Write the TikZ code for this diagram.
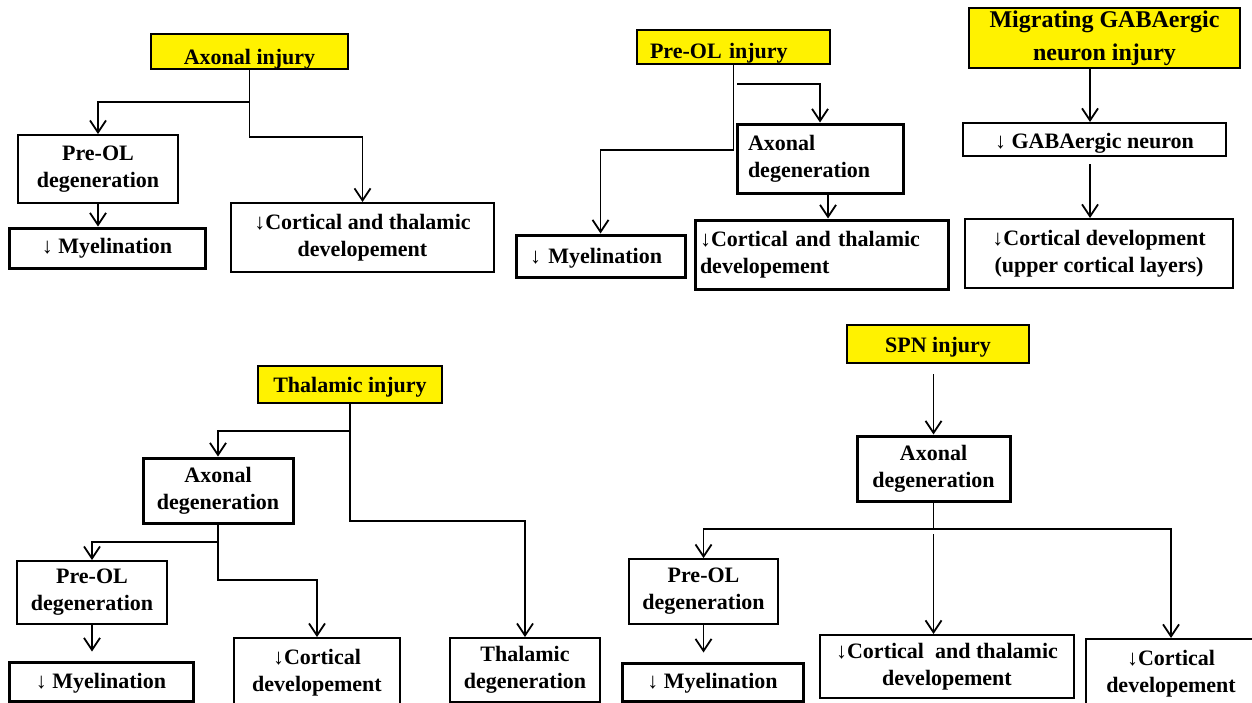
\documentclass[tikz,border=0pt]{standalone}
\usepackage{fontspec}
\setmainfont{Liberation Serif}
\usetikzlibrary{arrows.meta}
\newcommand{\darr}{{\mdseries ↓}}
\begin{document}
\begin{tikzpicture}[x=1pt,y=-1pt,
  every node/.style={font=\bfseries\fontsize{22}{27}\selectfont},
  box/.style={draw=black, line width=#1, inner sep=0pt, align=center, fill=white},
  box/.default=2pt,
  inj/.style={draw=black, line width=2.5pt, fill=yellow, inner sep=0pt, align=center},
  low/.style={text height=#1, text depth=0pt},
  arr/.style={line width=1.8pt, -{Straight Barb[length=12pt,width=16pt,line width=1.8pt]}},
  ln/.style={line width=1.8pt},
]
\useasboundingbox (0,0) rectangle (1252,702);
\fill[white] (0,0) rectangle (1252,702);

% ---------- Panel 1: Axonal injury ----------
\node[inj, low=25pt, minimum width=197pt, minimum height=35pt] (ai) at (249.5,51.5) {Axonal injury};
\node[box=1.8pt, minimum width=160pt, minimum height=68pt] (p1pre) at (98,169) {Pre-OL\\degeneration};
\node[box=3pt, minimum width=196pt, minimum height=40pt] (p1mye) at (107,248) {\darr\ Myelination};
\node[box=2pt, minimum width=263pt, minimum height=69pt] (p1cor) at (362.5,237.5) {\darr Cortical and thalamic\\developement};
\coordinate (j1) at (249.5,102);
\coordinate (j1b) at (249.5,137);
\draw[ln] (ai.south) -- (j1);
\draw[arr] (j1) -| (p1pre);
\draw[arr] (j1) -- (j1b) -| (p1cor);
\draw[arr] (p1pre.south) -- (p1pre.south |- p1mye.north);

% ---------- Panel 2: Pre-OL injury ----------
\node[inj, low=22pt, minimum width=193pt, minimum height=34pt, text width=167pt, align=left] (pi) at (733.5,47) {Pre-OL injury};
\node[box=3pt, minimum width=166pt, minimum height=69pt, text width=144pt, align=left] (p2ax) at (820,158.5) {Axonal\\degeneration};
\node[box=3pt, minimum width=253pt, minimum height=69pt, text width=243pt, align=left] (p2cor) at (821.5,254.5) {\darr Cortical and thalamic\\developement};
\node[box=3pt, low=14pt, minimum width=169pt, minimum height=42pt, text width=141pt, align=left] (p2mye) at (600.5,256) {\darr\ Myelination};
\coordinate (j2) at (733.5,150);
\coordinate (b2) at (737,84);
\draw[arr] (pi.south) -- (j2) -| (p2mye);
\draw[arr] (b2) -| (p2ax);
\draw[arr] ([xshift=8pt]p2ax.south) -- ([xshift=8pt]p2ax.south |- p2cor.north);

% ---------- Panel 3: Migrating GABAergic neuron injury ----------
\node[inj, minimum width=271pt, minimum height=60pt, font=\bfseries\fontsize{24}{33}\selectfont] (mg) at (1104.5,38) {Migrating GABAergic\\neuron injury};
\node[box=2pt, low=17pt, minimum width=263pt, minimum height=33pt] (gab) at (1094.5,139.5) {\darr\ GABAergic neuron};
\node[box=2pt, minimum width=268pt, minimum height=69pt] (cd) at (1099,253.5) {\darr Cortical development\\(upper cortical layers)};
\draw[arr] ([xshift=-4.5pt]gab.north |- mg.south) -- ([xshift=-4.5pt]gab.north);
\draw[arr] ([xshift=-4.5pt,yshift=-7pt]gab.south) -- ([xshift=-4.5pt]gab.south |- cd.north);

% ---------- Panel 4: Thalamic injury ----------
\node[inj, low=15pt, minimum width=184pt, minimum height=37pt] (ti) at (350,384.5) {Thalamic injury};
\node[box=3pt, minimum width=150pt, minimum height=65pt] (p4ax) at (218,490.5) {Axonal\\degeneration};
\node[box=1.8pt, minimum width=150pt, minimum height=63pt] (p4pre) at (92,592.5) {Pre-OL\\degeneration};
\node[box=3pt, low=13pt, minimum width=184pt, minimum height=39pt] (p4mye) at (101,681.5) {\darr\ Myelination};
\node[box=1.8pt, minimum width=166pt, minimum height=70pt] (p4cor) at (317,673) {\darr Cortical\\developement};
\node[box=1.8pt, minimum width=150pt, minimum height=64pt] (thd) at (525,670) {Thalamic\\degeneration};
\coordinate (j4) at (350,431);
\coordinate (j4b) at (350,521);
\coordinate (k4) at (218,542);
\coordinate (k4b) at (218,580);
\draw[ln] (ti.south) -- (j4);
\draw[arr] (j4) -| (p4ax);
\draw[arr] (j4) -- (j4b) -| (thd);
\draw[ln] (p4ax.south) -- (k4);
\draw[arr] (k4) -| (p4pre);
\draw[arr] (k4) -- (k4b) -| (p4cor);
\draw[arr, shorten >=9pt] (p4pre.south) -- (p4pre.south |- p4mye.north);

% ---------- Panel 5: SPN injury ----------
\node[inj, low=16pt, minimum width=182pt, minimum height=38pt] (spn) at (938,344) {SPN injury};
\node[box=3pt, minimum width=153pt, minimum height=65pt] (sax) at (933.5,468.5) {Axonal\\degeneration};
\node[box=1.8pt, minimum width=149pt, minimum height=65pt] (p5pre) at (703.5,591.5) {Pre-OL\\degeneration};
\node[box=3pt, low=12pt, minimum width=181pt, minimum height=38pt] (p5mye) at (712.5,682) {\darr\ Myelination};
\node[box=2pt, minimum width=254pt, minimum height=63pt] (p5ct) at (947,666.5) {\darr Cortical\enspace and thalamic\\developement};
\node[box=2pt, minimum width=170pt, minimum height=70pt] (p5cr) at (1171,674) {\darr Cortical\\developement};
\coordinate (j5) at (933.5,529);
\draw[arr] ([yshift=-10pt]sax.north |- spn.south) -- (sax.north);
\draw[ln] (sax.south) -- (j5);
\draw[arr] (j5) -| (p5pre);
\draw[arr] (j5) -| (p5cr);
\draw[arr] ([yshift=-5pt]j5) -- (j5 |- p5ct.north);
\draw[arr, shorten >=9pt] (p5pre.south) -- (p5pre.south |- p5mye.north);
\end{tikzpicture}
\end{document}
